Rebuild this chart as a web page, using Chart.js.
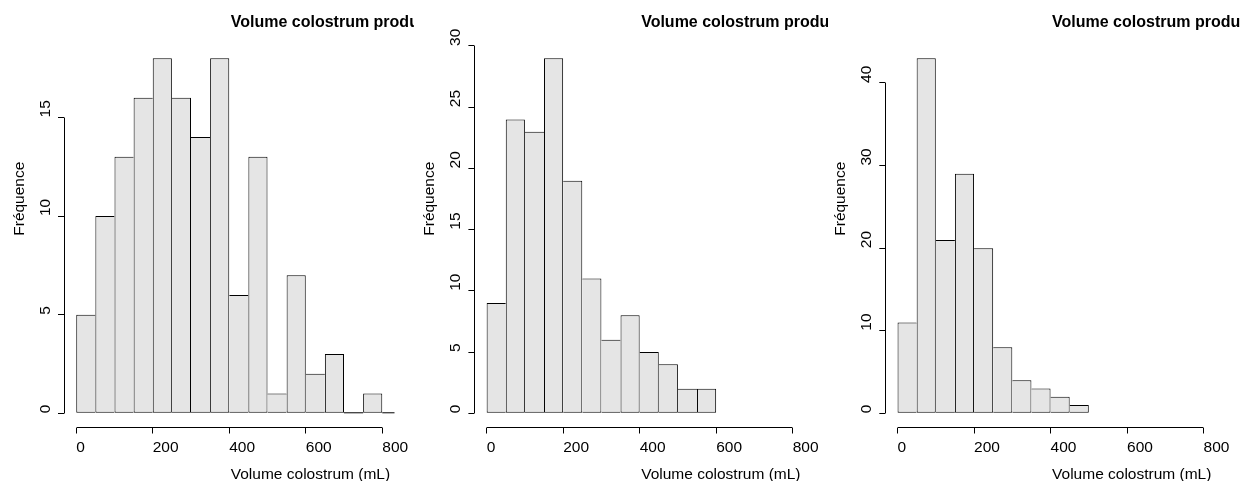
<!DOCTYPE html>
<html>
<head>
<meta charset="utf-8">
<script src="https://cdn.jsdelivr.net/npm/chart.js@4.4.0/dist/chart.umd.min.js"></script>
<style>
  body { margin: 0; background: #fff; }
  .panel { position: absolute; top: 0; width: 414px; height: 481px; overflow: hidden; }
</style>
</head>
<body>
<div class="panel" style="left:0"><canvas id="h1"></canvas></div>
<div class="panel" style="left:414px"><canvas id="h2"></canvas></div>
<div class="panel" style="left:828px"><canvas id="h3"></canvas></div>
<script>
// counts per 50 mL class
const binWidth = 50;
const counts1 = [5, 10, 13, 16, 18, 16, 14, 18, 6, 13, 1, 7, 2, 3, 0, 1, 0];
const counts2 = [9, 24, 23, 29, 19, 11, 6, 8, 5, 4, 2, 2];
const counts3 = [11, 43, 21, 29, 20, 8, 4, 3, 2, 1];
const xTicks = [0, 200, 400, 600, 800];
const yTicks1 = [0, 5, 10, 15];
const yTicks2 = [0, 5, 10, 15, 20, 25, 30];
const yTicks3 = [0, 10, 20, 30, 40];
const titre = 'Volume colostrum produ';
const xLabel = 'Volume colostrum (mL)';
const yLabel = 'Fréquence';

const FONT = '"Liberation Sans", Arial, sans-serif';
const PLOT_W = 330.5;

// R-like axes and labels (text left-aligned at the anchor, as in the picture)
const rPlot = {
  id: 'rPlot',
  afterDraw(chart) {
    const {ctx, chartArea: a, scales: {x, y}} = chart;
    const counts = chart.data.datasets[0].data;
    const yTicks = chart.options.plugins.rPlot.yTicks;
    ctx.save();

    // empty classes are drawn as a flat line on zero
    ctx.save();
    ctx.beginPath();
    ctx.rect(a.left, a.top, a.right - a.left, a.bottom - a.top);
    ctx.clip();
    ctx.strokeStyle = '#000';
    ctx.lineWidth = 1;
    const y0 = y.getPixelForValue(0) - 0.5;
    counts.forEach((d, i) => {
      if (d.y === 0) {
        ctx.beginPath();
        ctx.moveTo(x.getPixelForValue(d.x - binWidth / 2), y0);
        ctx.lineTo(x.getPixelForValue(d.x + binWidth / 2), y0);
        ctx.stroke();
      }
    });
    ctx.restore();

    // axis lines only over the tick range
    ctx.strokeStyle = '#000';
    ctx.lineWidth = 1;
    const by = Math.round(a.bottom - 0.5) + 0.5;
    ctx.beginPath();
    ctx.moveTo(Math.round(x.getPixelForValue(xTicks[0]) - 0.5) + 0.5, by);
    ctx.lineTo(Math.round(x.getPixelForValue(xTicks[xTicks.length - 1]) - 0.5) + 0.5, by);
    const lx = Math.round(a.left - 0.5) + 0.5;
    ctx.moveTo(lx, Math.round(y.getPixelForValue(yTicks[0]) - 0.5) + 0.5);
    ctx.lineTo(lx, Math.round(y.getPixelForValue(yTicks[yTicks.length - 1]) - 0.5) + 0.5);
    ctx.stroke();

    const cx = (a.left + a.right) / 2 + 1.5;
    ctx.fillStyle = '#000';
    ctx.textAlign = 'left';
    ctx.textBaseline = 'alphabetic';
    ctx.font = 'bold 16px ' + FONT;
    ctx.fillText(titre, cx, 26.7);
    ctx.font = '15.5px ' + FONT;
    ctx.fillText(xLabel, cx, 479);

    // y tick labels, reading upwards from the tick
    yTicks.forEach(v => {
      ctx.save();
      ctx.translate(a.left - 14, y.getPixelForValue(v));
      ctx.rotate(-Math.PI / 2);
      ctx.fillText(String(v), 0, 0);
      ctx.restore();
    });

    ctx.translate(a.left - 40.5, (a.top + a.bottom) / 2);
    ctx.rotate(-Math.PI / 2);
    ctx.fillText(yLabel, 0, 0);
    ctx.restore();
  }
};

// each shared edge is drawn once, by the taller bar
function edges(ctx) {
  const d = ctx.dataset.data;
  const i = ctx.dataIndex;
  const cur = d[i].y;
  const prev = d[i - 1];
  const next = d[i + 1];
  return {
    top: 1, bottom: 1,
    left: (!prev || prev.y <= cur) ? 1 : 0,
    right: (!next || next.y < cur) ? 1 : 0
  };
}

function histo(id, counts, yTicks, plotLeft) {
  const top = Math.max(...counts);
  new Chart(document.getElementById(id), {
    type: 'bar',
    data: {
      datasets: [{
        data: counts.map((c, i) => ({x: i * binWidth + binWidth / 2, y: c})),
        backgroundColor: '#E5E5E5',
        borderColor: '#000',
        borderSkipped: false,
        inflateAmount: 0,
        borderWidth: edges,
        barPercentage: 1,
        categoryPercentage: 1
      }]
    },
    options: {
      responsive: true,
      maintainAspectRatio: false,
      animation: false,
      layout: {padding: {left: plotLeft - 19.4, right: 414 - plotLeft - PLOT_W, top: 44, bottom: 0}},
      plugins: {
        legend: {display: false},
        tooltip: {enabled: false},
        rPlot: {yTicks: yTicks}
      },
      scales: {
        x: {
          type: 'linear',
          offset: false,
          min: -0.04 * 800,
          max: 1.04 * 800,
          afterBuildTicks: s => { s.ticks = xTicks.map(v => ({value: v})); },
          afterFit: s => { s.height = 53.5; },
          grid: {offset: false, drawOnChartArea: false, tickLength: 6, color: '#000'},
          border: {display: false},
          ticks: {
            align: 'start', minRotation: 0, maxRotation: 0, autoSkip: false,
            padding: 5, color: '#000', font: {family: FONT, size: 15.5},
            callback: v => String(v)
          }
        },
        y: {
          min: -0.04 * top,
          max: 1.04 * top,
          afterBuildTicks: s => { s.ticks = yTicks.map(v => ({value: v})); },
          afterFit: s => { s.width = 19.4; },
          grid: {drawOnChartArea: false, tickLength: 6, color: '#000'},
          border: {display: false},
          ticks: {display: false}
        }
      }
    },
    plugins: [rPlot]
  });
}

histo('h1', counts1, yTicks1, 64);
histo('h2', counts2, yTicks2, 60.4);
histo('h3', counts3, yTicks3, 57.3);
</script>
</body>
</html>
